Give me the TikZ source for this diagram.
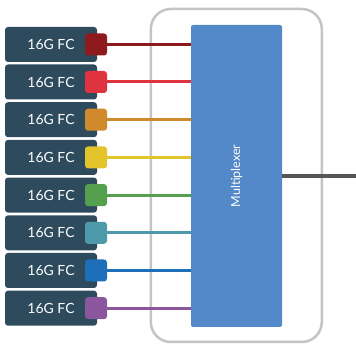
\documentclass[tikz,border=0pt]{standalone}
\usepackage{fontspec}
\setmainfont{Lato}
\definecolor{boxc}{HTML}{2D4B5D}
\definecolor{muxc}{HTML}{5389C8}
\definecolor{contc}{HTML}{C4C4C6}
\definecolor{outc}{HTML}{555555}
\definecolor{c1}{HTML}{8E1A1E}
\definecolor{c2}{HTML}{E03340}
\definecolor{c3}{HTML}{D08A2C}
\definecolor{c4}{HTML}{E3C42B}
\definecolor{c5}{HTML}{55A04F}
\definecolor{c6}{HTML}{4E9AAA}
\definecolor{c7}{HTML}{1E6FBA}
\definecolor{c8}{HTML}{8A579F}
\tikzset{
  portbox/.style={fill=boxc, rounded corners=3pt, minimum width=92pt, minimum height=35pt, inner sep=0pt, text=white, font=\fontsize{14}{16}\selectfont},
  sq/.style={rounded corners=3pt, minimum width=22pt, minimum height=22pt, inner sep=0pt},
  wire/.style={line width=3pt},
}
\begin{document}
\begin{tikzpicture}[x=1pt,y=-1pt]
\useasboundingbox (0,0) rectangle (356,344);
\node[draw=contc, line width=2.5pt, rounded corners=20pt, minimum width=171pt, minimum height=333pt, inner sep=0pt] (cont) at (236.3,175.5) {};
\node[fill=muxc, rounded corners=2pt, minimum width=91pt, minimum height=302pt, inner sep=0pt] (mux) at (236.5,176) {};
\node[rotate=90, text=white, font=\fontsize{12.5}{14}\selectfont] (muxlabel) at (mux.center) {Multiplexer};
\coordinate (out) at (356,176);
\draw[outc, line width=4pt] (mux.east |- out) -- (out);
\foreach \i/\y in {1/44.5,2/82,3/119.7,4/157.4,5/195.1,6/232.8,7/270.5,8/308.2}{
  \node[portbox] (b\i) at (51,\y) {16G FC};
  \draw[c\i, wire] (96,\y) -- (mux.west |- 0,\y);
  \node[sq, fill=c\i] (s\i) at (96,\y) {};
}
\end{tikzpicture}
\end{document}
